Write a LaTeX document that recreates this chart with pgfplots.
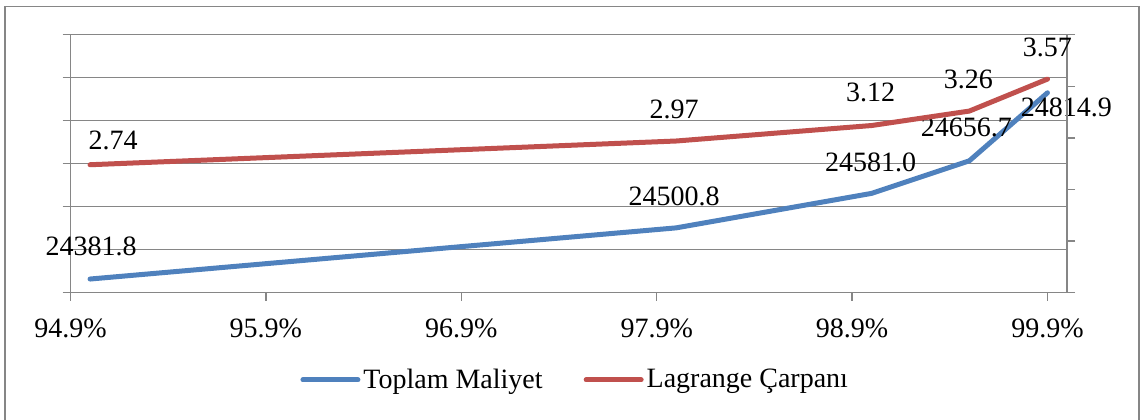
\documentclass[border=0pt]{standalone}
\usepackage{fontspec}
\setmainfont{Liberation Serif}
\usepackage{pgfplots}
\pgfplotsset{compat=1.18}
\usepackage{pgfplotstable}

\definecolor{costblue}{RGB}{79,129,189}
\definecolor{lagred}{RGB}{192,80,77}
\definecolor{axisgray}{RGB}{134,134,134}

% service level (%), value, printed label, label offset (pt)
\pgfplotstableread{
x     y        label    dx    dy
95.0  24381.8  24381.8  0.5   16.2
98.0  24500.8  24500.8  -1    15.5
99.0  24581.0  24581.0  -0.5  15.7
99.5  24656.7  24656.7  -1.5  16.5
99.9  24814.9  24814.9  9.5   -7.2
}\costtable

\pgfplotstableread{
x     y     label  dx    dy
95.0  2.74  2.74   11.5  12.2
98.0  2.97  2.97   -1    15.8
99.0  3.12  3.12   -0.5  16.6
99.5  3.26  3.26   -0.5  16.0
99.9  3.57  3.57   0     15.6
}\lagtable

\pgfplotsset{
  common/.style={
    scale only axis,
    width=498.25pt, height=129pt,
    at={(35.25pt,63.15pt)}, anchor=south west,
    xmin=94.9, xmax=100.0,
    clip=false,
    tick align=outside,
    major tick length=4pt,
    tick style={axisgray, line width=0.75pt},
    axis line style={axisgray, line width=0.75pt, -},
    scaled y ticks=false,
    yticklabels={},
    font=\fontsize{14}{16}\selectfont,
  },
  series/.style={
    line width=2.5pt, line cap=round, line join=round, no markers,
    nodes near coords,
    point meta=explicit symbolic,
    visualization depends on={\thisrow{dx} \as \dx},
    visualization depends on={\thisrow{dy} \as \dy},
    every node near coord/.append style={
      font=\fontsize{14}{16}\selectfont, text=black,
      anchor=center, xshift=\dx*1pt, yshift=\dy*1pt},
  },
}

\begin{document}
\begin{tikzpicture}
\useasboundingbox (0,0) rectangle (570pt,209.5pt);
\draw[axisgray, line width=0.75pt] (2.5pt,-2pt) rectangle (569.5pt,206.15pt);

% left axis: total cost
\begin{axis}[
  common,
  axis x line*=bottom, axis y line*=left,
  ymin=24350, ymax=24950,
  ytick={24350,24450,...,24950},
  ymajorgrids,
  major grid style={axisgray, line width=0.6pt},
  xtick={94.9,95.9,96.9,97.9,98.9,99.9},
  xticklabels={94.9\%,95.9\%,96.9\%,97.9\%,98.9\%,99.9\%},
  xticklabel style={anchor=center, yshift=-13.6pt},
]
\addplot[costblue, series] table[x=x, y=y, meta=label] {\costtable};
\end{axis}

% right axis: Lagrange multiplier
\begin{axis}[
  common,
  axis x line=none, axis y line*=right,
  ymin=1.5, ymax=4.0,
  ytick={1.5,2.0,...,4.0},
  legend style={at={(0.507,-0.338)}, anchor=center, draw=none, fill=none,
    legend columns=2, font=\fontsize{14}{16}\selectfont,
    nodes={inner xsep=1.5pt},
    /tikz/every even column/.append style={column sep=19pt}},
  legend image code/.code={\draw[#1] (0pt,0pt) -- (27.5pt,0pt);},
]
\addlegendimage{costblue, line width=2.5pt, line cap=round}
\addlegendentry{Toplam Maliyet}
\addplot[lagred, series] table[x=x, y=y, meta=label] {\lagtable};
\addlegendentry{Lagrange Çarpanı}
\end{axis}
\end{tikzpicture}
\end{document}
